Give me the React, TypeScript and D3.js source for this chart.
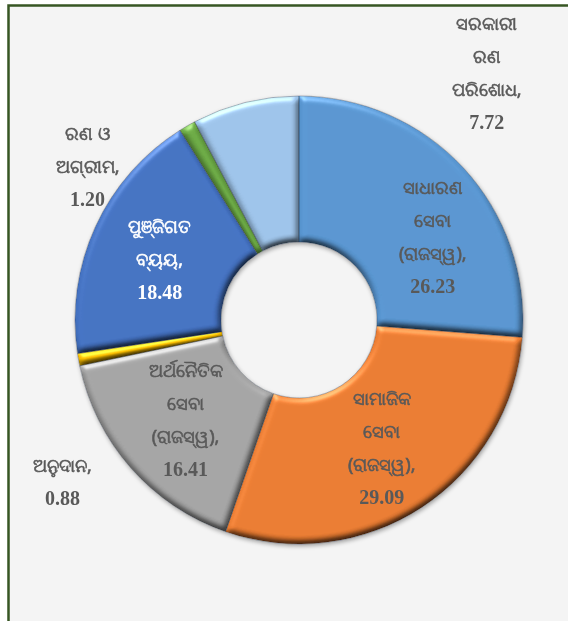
import React from "react";
import * as d3 from "d3";

const categories: string[][] = [
  ["ସାଧାରଣ", "ସେବା", "(ରାଜସ୍ୱ),"],
  ["ସାମାଜିକ", "ସେବା", "(ରାଜସ୍ୱ),"],
  ["ଅର୍ଥନୈତିକ", "ସେବା", "(ରାଜସ୍ୱ),"],
  ["ଅନୁଦାନ,"],
  ["ପୁଞ୍ଜିଗତ", "ବ୍ୟୟ,"],
  ["ରଣ ଓ", "ଅଗ୍ରୀମ,"],
  ["ସରକାରୀ", "ରଣ", "ପରିଶୋଧ,"],
];
const values: number[] = [26.23, 29.09, 16.41, 0.88, 18.48, 1.2, 7.72];
const valueLabels: string[] = ["26.23", "29.09", "16.41", "0.88", "18.48", "1.20", "7.72"];
const colors: string[] = ["#5794CF", "#E87A30", "#A3A3A3", "#F5BA00", "#4270C0", "#6AA843", "#9CC2E8"];
const labelColors: string[] = ["#595959", "#595959", "#595959", "#595959", "#FFFFFF", "#595959", "#595959"];
// label offsets relative to the arc centroid
const labelOffsets: [number, number][] = [
  [23, 19],
  [0, 1],
  [0, 0],
  [-88, 135],
  [-2, 2],
  [-136, -23],
  [224, -101],
];

const W = 568;
const H = 621;
const CX = 299;
const CY = 320;
const R = 224;
const RIN = 78;
const LINE = 33;

export default function App() {
  const pie = d3.pie<number>().sort(null).value((d) => d)(values);
  const arc = d3.arc<d3.PieArcDatum<number>>().innerRadius(RIN).outerRadius(R);
  const mid = d3.arc<d3.PieArcDatum<number>>().innerRadius((R + RIN) / 2).outerRadius((R + RIN) / 2);

  return (
    <svg
      width={W}
      height={H}
      style={{ position: "absolute", left: 0, top: 0 }}
    >
      <defs>
        <filter id="bevel" x="-20%" y="-20%" width="140%" height="140%" colorInterpolationFilters="sRGB">
          <feGaussianBlur in="SourceAlpha" stdDeviation="3" result="blur" />
          <feSpecularLighting
            in="blur"
            surfaceScale="3"
            specularConstant="0.5"
            specularExponent="25"
            lightingColor="#ffffff"
            result="spec"
          >
            <feDistantLight azimuth="250" elevation="35" />
          </feSpecularLighting>
          <feComposite in="spec" in2="SourceAlpha" operator="in" result="specIn" />
          <feDiffuseLighting in="blur" surfaceScale="3" diffuseConstant="1.3" lightingColor="#ffffff" result="diff">
            <feDistantLight azimuth="250" elevation="50" />
          </feDiffuseLighting>
          <feComposite in="diff" in2="SourceAlpha" operator="in" result="diffIn" />
          <feBlend in="SourceGraphic" in2="diffIn" mode="multiply" result="shaded" />
          <feComposite in="shaded" in2="specIn" operator="arithmetic" k1="0" k2="1" k3="0.6" k4="0" result="lit" />
          <feComposite in="lit" in2="SourceAlpha" operator="in" />
        </filter>
        <filter id="shadow" x="-10%" y="-10%" width="120%" height="120%">
          <feDropShadow dx="1" dy="2" stdDeviation="2" floodColor="#000" floodOpacity="0.35" />
        </filter>
      </defs>
      <rect x={0} y={0} width={W} height={H} fill="#ffffff" />
      <rect x={8.5} y={5.5} width={W + 20} height={H + 20} fill="#f4f4f4" stroke="#375623" strokeWidth={2.5} />
      <g transform={`translate(${CX},${CY})`}>
        <g filter="url(#shadow)">
          {pie.map((p, i) => (
            <path key={i} d={arc(p) || ""} fill={colors[i]} filter="url(#bevel)" />
          ))}
          {pie.map((p, i) => (
            <path key={"s" + i} d={arc(p) || ""} fill="none" stroke="rgba(20,30,45,0.35)" strokeWidth={0.8} />
          ))}
        </g>
      </g>
      {pie.map((p, i) => {
        const [mx, my] = mid.centroid(p);
        const x = CX + mx + labelOffsets[i][0];
        const lines = categories[i];
        const n = lines.length + 1;
        const yc = CY + my + labelOffsets[i][1];
        const y0 = yc - ((n - 1) * LINE) / 2;
        return (
          <g key={"l" + i} fill={labelColors[i]} textAnchor="middle">
            {lines.map((t, j) => (
              <text
                key={j}
                x={x}
                y={y0 + j * LINE}
                dominantBaseline="central"
                fontFamily="'Noto Sans', 'DejaVu Sans', sans-serif"
                fontSize={18}
                stroke={labelColors[i]}
                strokeWidth={0.6}
              >
                {t}
              </text>
            ))}
            <text
              x={x}
              y={y0 + lines.length * LINE}
              dominantBaseline="central"
              fontFamily="'Liberation Serif', 'Times New Roman', serif"
              fontWeight="bold"
              fontSize={20}
            >
              {valueLabels[i]}
            </text>
          </g>
        );
      })}
    </svg>
  );
}
